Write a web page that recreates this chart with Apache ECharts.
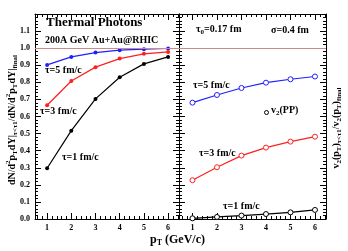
<!DOCTYPE html>
<html><head><meta charset="utf-8">
<script src="https://cdn.jsdelivr.net/npm/echarts@6/dist/echarts.min.js"></script>
<style>html,body{margin:0;padding:0;background:#fff}#c{width:348px;height:251px}</style>
</head><body><div id="c"></div>
<script>
// ---- data ----
const pT = [1, 2, 3, 4, 5, 6];
const ratioTau1 = [0.297, 0.517, 0.703, 0.830, 0.908, 0.949];
const ratioTau3 = [0.666, 0.808, 0.889, 0.939, 0.967, 0.978];
const ratioTau5 = [0.902, 0.949, 0.974, 0.988, 0.994, 0.998];
const v2Tau1 = [0.004, 0.012, 0.020, 0.029, 0.039, 0.053];
const v2Tau3 = [0.227, 0.303, 0.371, 0.418, 0.453, 0.482];
const v2Tau5 = [0.681, 0.726, 0.767, 0.798, 0.818, 0.834];
const xMajorTicks = [1, 2, 3, 4, 5, 6];
const xMinorTicks = [0.6, 0.8, 1.2, 1.4, 1.6, 1.8, 2.2, 2.4, 2.6, 2.8, 3.2, 3.4, 3.6, 3.8, 4.2, 4.4, 4.6, 4.8, 5.2, 5.4, 5.6, 5.8, 6.2, 6.4];
const yTickLabels = ['0.0','0.1','0.2','0.3','0.4','0.5','0.6','0.7','0.8','0.9','1.0','1.1',''];
const refLevel = 1.0;

const FF = 'Liberation Serif';
const pair = (xs, ys) => xs.map((x, i) => [x, ys[i]]);

function xAxes(grid, min, max) {
  const base = { type: 'value', gridIndex: grid, min: min, max: max, splitLine: { show: false } };
  const line = { show: true, lineStyle: { color: '#000', width: 1 } };
  return [
    Object.assign({}, base, { position: 'bottom', axisLine: line,
      axisTick: { show: true, inside: true, length: 6, customValues: xMajorTicks, lineStyle: { color: '#000' } },
      axisLabel: { show: true, customValues: xMajorTicks, margin: 5, fontFamily: FF, fontWeight: 'bold', fontSize: 8, color: '#000' } }),
    Object.assign({}, base, { position: 'bottom', axisLine: { show: false },
      axisTick: { show: true, inside: true, length: 3, customValues: xMinorTicks, lineStyle: { color: '#000' } },
      axisLabel: { show: false } }),
    Object.assign({}, base, { position: 'top', axisLine: line,
      axisTick: { show: true, inside: true, length: 6, customValues: xMajorTicks, lineStyle: { color: '#000' } },
      axisLabel: { show: false } }),
    Object.assign({}, base, { position: 'top', axisLine: { show: false },
      axisTick: { show: true, inside: true, length: 3, customValues: xMinorTicks, lineStyle: { color: '#000' } },
      axisLabel: { show: false } })
  ];
}
function yAxis(grid, pos, labels) {
  return { type: 'value', gridIndex: grid, position: pos, min: 0, max: 1.2, interval: 0.1,
    splitLine: { show: false },
    axisLine: { show: true, lineStyle: { color: '#000', width: 1 } },
    axisTick: { show: true, inside: true, length: 6, lineStyle: { color: '#000' } },
    minorTick: { show: true, splitNumber: 5, length: 3, lineStyle: { color: '#000' } },
    axisLabel: { show: labels, margin: 5, fontFamily: FF, fontWeight: 'bold', fontSize: 8, color: '#000',
      formatter: (v) => yTickLabels[Math.round(v * 10)] } };
}

const refLine = { silent: true, symbol: ['none', 'none'], label: { show: false },
  lineStyle: { color: '#c98a8a', width: 1, type: 'solid' }, data: [{ yAxis: refLevel }] };

function leftSeries(ys, color, withRef) {
  const s = { type: 'line', xAxisIndex: 0, yAxisIndex: 0, data: pair(pT, ys),
    symbol: 'circle', symbolSize: 4, itemStyle: { color: color },
    lineStyle: { color: color, width: 1.2 }, animation: false, z: 3 };
  if (withRef) s.markLine = refLine;
  return s;
}
function rightSeries(ys, color, withRef) {
  const s = { type: 'line', xAxisIndex: 4, yAxisIndex: 2, data: pair(pT, ys),
    symbol: 'circle', symbolSize: 5, itemStyle: { color: '#fff', borderColor: color, borderWidth: 1 },
    lineStyle: { color: color, width: 1.2 }, animation: false, z: 3 };
  if (withRef) s.markLine = refLine;
  return s;
}

const rich = {
  n: { fontFamily: FF, fontWeight: 'bold', fontSize: 10, color: '#000', lineHeight: 14, verticalAlign: 'middle' },
  sub: { fontFamily: FF, fontWeight: 'bold', fontSize: 7, color: '#000', lineHeight: 14, verticalAlign: 'bottom', padding: [5, 0, 0, 0] },
  sup: { fontFamily: FF, fontWeight: 'bold', fontSize: 7, color: '#000', lineHeight: 14, verticalAlign: 'top', padding: [0, 0, 5, 0] },
  big: { fontFamily: FF, fontWeight: 'bold', fontSize: 12, color: '#000', lineHeight: 14, verticalAlign: 'middle' },
  bsub: { fontFamily: FF, fontWeight: 'bold', fontSize: 8, color: '#000', lineHeight: 14, verticalAlign: 'bottom', padding: [6, 0, 0, 0] }
};
function txt(x, y, text, size) {
  return { type: 'text', left: x, top: y, z: 10,
    style: { text: text, fontFamily: FF, fontWeight: 'bold', fontSize: size || 10, fill: '#000' } };
}
function rtxt(x, y, text, rot) {
  return { type: 'text', x: x, y: y, rotation: rot || 0, z: 10,
    style: { text: text, rich: rich, align: 'center', verticalAlign: 'middle' } };
}

const chart = echarts.init(document.getElementById('c'), null, { renderer: 'canvas' });
chart.setOption({
  animation: false,
  backgroundColor: '#fff',
  grid: [
    { left: 35, top: 14, width: 144, height: 205 },
    { left: 179, top: 14, width: 147, height: 205 }
  ],
  xAxis: [].concat(xAxes(0, 0.5, 6.45), xAxes(1, 0.45, 6.45)),
  yAxis: [yAxis(0, 'left', true), yAxis(0, 'right', false), yAxis(1, 'left', false), yAxis(1, 'right', false)],
  series: [
    leftSeries(ratioTau5, '#1f1fff', true),
    leftSeries(ratioTau3, '#ff1f1f', false),
    leftSeries(ratioTau1, '#000000', false),
    rightSeries(v2Tau5, '#1f1fff', true),
    rightSeries(v2Tau3, '#ff1f1f', false),
    rightSeries(v2Tau1, '#000000', false)
  ],
  graphic: [
    txt(46, 16, 'Thermal Photons', 13),
    txt(45, 35, '200A GeV Au+Au@RHIC', 10),
    txt(45, 65, 'τ=5 fm/c', 10),
    txt(40, 106, 'τ=3 fm/c', 10),
    txt(62, 152, 'τ=1 fm/c', 10),
    { type: 'text', left: 196, top: 24, z: 10, style: { text: '{n|τ}{sub|0}{n|=0.17 fm}', rich: rich } },
    txt(271, 25, 'σ=0.4 fm', 10),
    txt(193, 80, 'τ=5 fm/c', 10),
    { type: 'circle', shape: { cx: 266.5, cy: 112.5, r: 2 }, style: { fill: '#fff', stroke: '#000', lineWidth: 1 }, z: 10 },
    { type: 'text', left: 271, top: 105, z: 10, style: { text: '{n|v}{sub|2}{n|(PP)}', rich: rich } },
    txt(199, 148, 'τ=3 fm/c', 10),
    txt(223, 201, 'τ=1 fm/c', 10),
    { type: 'text', left: 150, top: 233, z: 10, style: { text: '{big|p}{bsub|T}{big| (GeV/c)}', rich: rich } },
    rtxt(12, 120, '{n|dN/d}{sup|2}{n|p}{sub|T}{n|dY|}{sub|τ<τ}{sub|1}{n|/dN/d}{sup|2}{n|p}{sub|T}{n|dY|}{sub|final}', -Math.PI / 2 * -1),
    rtxt(336, 128, '{n|v}{sub|2}{n|(p}{sub|T}{n|)}{sub|τ<τ}{sub|1}{n|/v}{sub|2}{n|(p}{sub|T}{n|)}{sub|final}', Math.PI / 2)
  ]
});
</script></body></html>
